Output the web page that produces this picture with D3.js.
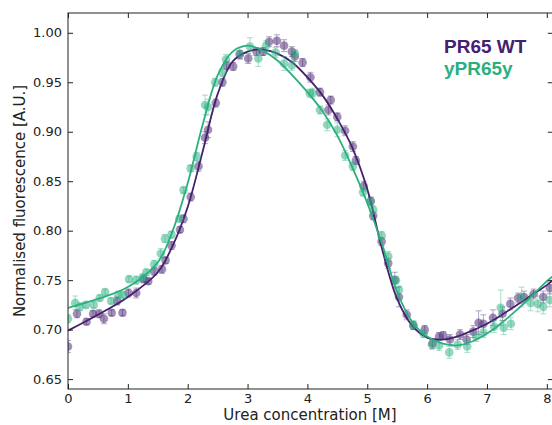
<!DOCTYPE html>
<html>
<head>
<meta charset="utf-8">
<script src="https://cdnjs.cloudflare.com/ajax/libs/d3/7.8.5/d3.min.js"></script>
<style>
  body { margin: 0; background: #fff; }
  svg { display: block; }
</style>
</head>
<body>
<div id="chart"></div>
<script>
const width = 552, height = 425;
const margin = {left: 68, top: 13, right: 552.8, bottom: 389};
const purple = "#44206f", green = "#2ab07f";

// PR65 WT measurements
const wtX = [0.00,0.15,0.31,0.42,0.52,0.60,0.73,0.82,0.91,1.01,1.14,1.26,1.34,1.44,1.57,1.63,1.73,1.87,1.93,
  2.05,2.18,2.29,2.34,2.47,2.58,2.65,2.76,2.87,3.01,3.15,3.26,3.36,3.49,3.61,3.74,3.79,3.92,4.05,4.21,4.35,
  4.39,4.50,4.63,4.76,4.81,4.94,5.06,5.10,5.24,5.35,5.46,5.53,5.66,5.77,5.96,6.09,6.20,6.27,6.38,6.55,6.66,
  6.77,6.86,6.94,7.10,7.26,7.39,7.52,7.62,7.78,7.94,8.05];
const wtY = [0.683,0.716,0.708,0.716,0.716,0.711,0.717,0.729,0.717,0.737,0.737,0.751,0.749,0.759,0.761,0.770,0.785,0.801,0.812,
  0.834,0.865,0.894,0.902,0.929,0.950,0.967,0.966,0.978,0.974,0.981,0.981,0.991,0.992,0.987,0.981,0.976,0.970,0.955,0.940,0.922,
  0.932,0.915,0.901,0.885,0.871,0.845,0.830,0.815,0.789,0.767,0.750,0.733,0.715,0.704,0.700,0.686,0.693,0.694,0.690,0.695,0.690,
  0.698,0.707,0.706,0.712,0.716,0.726,0.732,0.733,0.736,0.733,0.742];
const wtErr = [0.006,0.004,0.003,0.003,0.004,0.005,0.003,0.004,0.003,0.004,0.005,0.003,0.003,0.004,0.004,0.003,0.004,0.003,0.004,
  0.004,0.005,0.006,0.008,0.004,0.004,0.004,0.004,0.004,0.005,0.004,0.004,0.005,0.006,0.006,0.005,0.005,0.004,0.005,0.004,0.005,
  0.004,0.004,0.005,0.005,0.004,0.005,0.004,0.004,0.004,0.005,0.008,0.010,0.005,0.004,0.004,0.005,0.004,0.004,0.005,0.005,0.005,
  0.006,0.012,0.009,0.008,0.007,0.006,0.005,0.006,0.005,0.006,0.006];

// yPR65y measurements
const ypX = [0.00,0.12,0.20,0.30,0.43,0.53,0.62,0.72,0.84,0.92,1.02,1.14,1.25,1.31,1.44,1.55,1.62,1.73,1.86,1.93,
  2.05,2.15,2.29,2.34,2.46,2.58,2.64,2.87,3.04,3.18,3.31,3.47,3.61,3.74,3.79,4.04,4.09,4.21,4.33,4.50,
  4.63,4.76,4.93,5.05,5.10,5.24,5.35,5.48,5.53,5.77,5.94,6.08,6.20,6.37,6.51,6.67,6.82,6.94,7.12,7.23,
  7.28,7.40,7.58,7.73,7.85,7.94,8.05];
const ypY = [0.711,0.727,0.723,0.725,0.725,0.732,0.738,0.729,0.735,0.735,0.751,0.750,0.753,0.758,0.766,0.777,0.792,0.796,0.812,0.841,
  0.863,0.875,0.927,0.925,0.950,0.960,0.973,0.979,0.986,0.974,0.987,0.980,0.969,0.967,0.979,0.939,0.939,0.922,0.907,0.902,
  0.876,0.865,0.839,0.829,0.821,0.795,0.774,0.750,0.740,0.705,0.696,0.685,0.684,0.677,0.685,0.683,0.693,0.697,0.703,0.722,
  0.702,0.706,0.733,0.727,0.726,0.723,0.730];
const ypErr = [0.004,0.007,0.004,0.003,0.003,0.003,0.003,0.003,0.004,0.003,0.003,0.004,0.003,0.003,0.004,0.005,0.004,0.003,0.003,0.003,
  0.003,0.004,0.010,0.008,0.004,0.004,0.005,0.006,0.009,0.008,0.005,0.005,0.007,0.005,0.004,0.004,0.005,0.004,0.006,0.007,
  0.005,0.004,0.004,0.004,0.004,0.004,0.005,0.004,0.004,0.004,0.004,0.005,0.005,0.006,0.005,0.006,0.005,0.005,0.006,0.018,
  0.007,0.006,0.010,0.008,0.008,0.007,0.007];

// fitted curves
const fitX = [0,0.5,1.0,1.5,1.75,2.0,2.25,2.5,2.75,3.0,3.25,3.5,3.75,4.0,4.25,4.5,4.75,5.0,5.25,5.5,5.75,6.0,6.25,6.5,6.75,7.0,7.25,7.5,7.75,8.0,8.1];
const wtFit = [0.699,0.715,0.733,0.758,0.785,0.824,0.880,0.938,0.971,0.981,0.983,0.979,0.970,0.955,0.937,0.913,0.884,0.842,0.781,0.731,0.704,0.692,0.690,0.693,0.699,0.706,0.715,0.725,0.735,0.745,0.750];
const ypFit = [0.722,0.731,0.743,0.768,0.800,0.848,0.907,0.957,0.981,0.987,0.982,0.972,0.957,0.940,0.921,0.896,0.864,0.828,0.786,0.738,0.708,0.693,0.686,0.684,0.688,0.696,0.707,0.720,0.734,0.749,0.754];

const xTicks = [0,1,2,3,4,5,6,7,8];
const yTicks = [0.65,0.70,0.75,0.80,0.85,0.90,0.95,1.00];

const svg = d3.select("#chart").append("svg")
  .attr("width", width).attr("height", height)
  .style("font-family", "DejaVu Sans, sans-serif");

const x = d3.scaleLinear().domain([0, 8.1]).range([margin.left, margin.right]);
const y = d3.scaleLinear().domain([0.64, 1.02]).range([margin.bottom, margin.top]);

svg.append("clipPath").attr("id", "clip")
  .append("rect")
  .attr("x", margin.left).attr("y", margin.top)
  .attr("width", margin.right - margin.left).attr("height", margin.bottom - margin.top);

const plot = svg.append("g").attr("clip-path", "url(#clip)");

function series(xs, ys, es, fx, fy, col) {
  const pts = xs.map((d, i) => ({x: d, y: ys[i], e: es[i]}));
  const g = plot.append("g");
  // error bars
  g.selectAll(".eb").data(pts).enter().append("path")
    .attr("d", d => {
      const cx = x(d.x), y0 = y(d.y - d.e), y1 = y(d.y + d.e);
      return `M${cx},${y0}V${y1}M${cx - 3},${y0}H${cx + 3}M${cx - 3},${y1}H${cx + 3}`;
    })
    .attr("stroke", col).attr("stroke-opacity", 0.4).attr("fill", "none").attr("stroke-width", 1);
  g.selectAll("circle").data(pts).enter().append("circle")
    .attr("cx", d => x(d.x)).attr("cy", d => y(d.y)).attr("r", 4.3)
    .attr("fill", col).attr("fill-opacity", 0.5);
  const line = d3.line().curve(d3.curveCatmullRom.alpha(0.5))
    .x((d, i) => x(fx[i])).y(d => y(d));
  plot.append("path").datum(fy)
    .attr("d", line).attr("fill", "none").attr("stroke", col).attr("stroke-width", 1.8);
}

series(wtX, wtY, wtErr, fitX, wtFit, purple);
series(ypX, ypY, ypErr, fitX, ypFit, green);

// frame
svg.append("rect")
  .attr("x", margin.left).attr("y", margin.top)
  .attr("width", margin.right - margin.left).attr("height", margin.bottom - margin.top)
  .attr("fill", "none").attr("stroke", "#222").attr("stroke-width", 1);

// axes with inward ticks
svg.append("g").attr("transform", `translate(0,${margin.bottom})`)
  .call(d3.axisBottom(x).tickValues(xTicks).tickSizeInner(-5).tickSizeOuter(0).tickPadding(5).tickFormat(d3.format("d")))
  .call(g => g.select(".domain").remove())
  .call(g => g.selectAll("text").attr("font-size", 13).attr("fill", "#222").attr("font-family", "DejaVu Sans"));
svg.append("g").attr("transform", `translate(0,${margin.top})`)
  .call(d3.axisTop(x).tickValues(xTicks).tickSizeInner(-5).tickSizeOuter(0).tickFormat(""))
  .call(g => g.select(".domain").remove());
svg.append("g").attr("transform", `translate(${margin.left},0)`)
  .call(d3.axisLeft(y).tickValues(yTicks).tickSizeInner(-5).tickSizeOuter(0).tickPadding(6).tickFormat(d3.format(".2f")))
  .call(g => g.select(".domain").remove())
  .call(g => g.selectAll("text").attr("font-size", 13).attr("fill", "#222").attr("font-family", "DejaVu Sans"));
svg.append("g").attr("transform", `translate(${margin.right},0)`)
  .call(d3.axisRight(y).tickValues(yTicks).tickSizeInner(-5).tickSizeOuter(0).tickFormat(""))
  .call(g => g.select(".domain").remove());
svg.selectAll(".tick line").attr("stroke", "#222");

// axis labels
svg.append("text")
  .attr("x", 310).attr("y", 420)
  .attr("text-anchor", "middle").attr("font-size", 15).attr("fill", "#222")
  .text("Urea concentration [M]");
svg.append("text")
  .attr("transform", `translate(25,${(margin.top + margin.bottom) / 2}) rotate(-90)`)
  .attr("text-anchor", "middle").attr("font-size", 15).attr("fill", "#222")
  .text("Normalised fluorescence [A.U.]");

// legend text
svg.append("text").attr("x", 444).attr("y", 53)
  .attr("font-family", "Liberation Sans, Arial, sans-serif").attr("font-weight", "bold")
  .attr("font-size", 19).attr("fill", purple).text("PR65 WT");
svg.append("text").attr("x", 444).attr("y", 75)
  .attr("font-family", "Liberation Sans, Arial, sans-serif").attr("font-weight", "bold")
  .attr("font-size", 19).attr("fill", green).text("yPR65y");
</script>
</body>
</html>
